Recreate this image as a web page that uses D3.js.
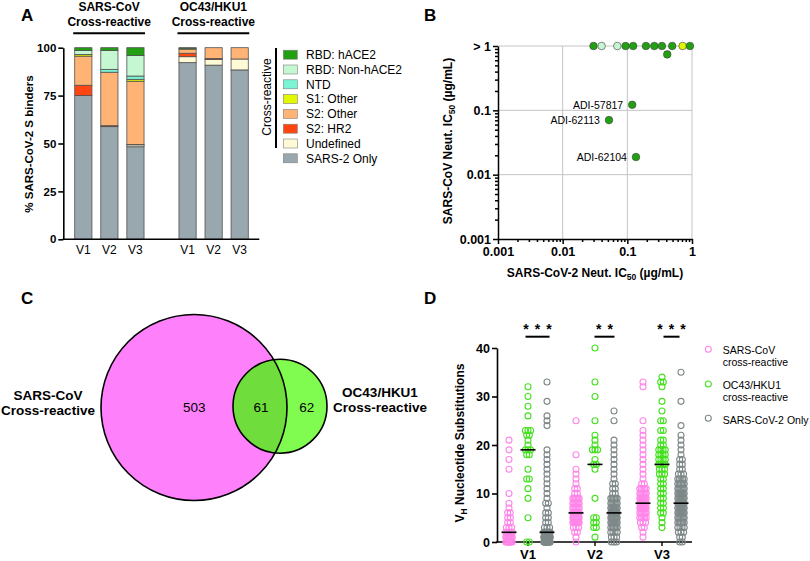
<!DOCTYPE html>
<html>
<head>
<meta charset="utf-8">
<script src="https://cdn.jsdelivr.net/npm/d3@7"></script>
<style>
  body { margin: 0; background: #fff; }
  svg { display: block; font-family: "Liberation Sans", Arial, sans-serif; }
</style>
</head>
<body>
<script>
// ---- panel A: epitope composition (% of SARS-CoV-2 S binders)
const visits = ["V1", "V2", "V3"];
const segNames = ["SARS-2 Only", "Undefined", "S2: HR2", "S2: Other", "S1: Other", "NTD", "RBD: Non-hACE2", "RBD: hACE2"];
const segColors = ["#98a8ae", "#fffad6", "#ff4511", "#ffb476", "#e2f700", "#7af5d4", "#c5f8d2", "#22a012"];
const sarsBars = [
  [75.0, 0, 5.4, 15.2, 0.9, 0, 2.1, 1.4],
  [58.8, 0, 0.5, 27.9, 0, 1.5, 9.8, 1.5],
  [48.3, 1.0, 0.2, 33.0, 1.0, 1.7, 10.8, 4.0]
];
const oc43Bars = [
  [92.2, 3.1, 1.8, 2.1, 0.5, 0, 0, 0.3],
  [90.9, 3.0, 0.5, 5.6, 0, 0, 0, 0],
  [88.4, 5.7, 0, 5.9, 0, 0, 0, 0]
];

// ---- panel B: neutralization IC50 (µg/mL)
const bSars2IC50 = [0.030, 0.040, 0.070, 0.094, 0.123, 0.194, 0.261, 0.343, 0.414, 0.494, 0.716, 0.929, 0.119, 0.052, 0.136];
const bSarsIC50  = [1, 1, 1, 1, 1, 1, 1, 1, 0.74, 1, 1, 1, 0.122, 0.0705, 0.0188];
const bEpitope   = ["RBD: hACE2", "RBD: Non-hACE2", "RBD: Non-hACE2", "RBD: hACE2", "RBD: hACE2", "RBD: hACE2",
                    "RBD: hACE2", "RBD: hACE2", "RBD: hACE2", "RBD: hACE2", "S1: Other", "RBD: hACE2",
                    "RBD: hACE2", "RBD: hACE2", "RBD: hACE2"];
const bLabels    = ["", "", "", "", "", "", "", "", "", "", "", "", "ADI-57817", "ADI-62113", "ADI-62104"];

// ---- panel C: overlap counts
const vennCounts = [503, 61, 62];

// ---- panel D: VH nucleotide substitutions, [value, count]
const dSeries = ["SARS-CoV cross-reactive", "OC43/HKU1 cross-reactive", "SARS-CoV-2 Only"];
const dSarsV1 = [[0,8],[1,8],[2,5],[3,3],[4,2],[5,2],[6,2],[7,1],[8,1],[10,1],[15,1],[17,1],[19,1],[21,1]];
const dOcV1   = [[0,2],[5,1],[9,1],[11,1],[13,2],[15,1],[18,2],[19,3],[20,1],[21,1],[22,2],[23,3],[26,1],[28,1],[30,1],[32,1]];
const dOnlyV1 = [[0,18],[1,22],[2,12],[3,3],[4,2],[5,2],[6,2],[7,1],[8,2],[9,1],[10,1],[11,1],[12,1],[13,1],[14,1],[15,1],[16,1],[17,1],[18,1],[19,1],[24,1],[25,1],[26,1],[29,1],[33,1]];
const dSarsV2 = [[0,1],[1,1],[2,2],[3,3],[4,8],[5,9],[6,9],[7,7],[8,7],[9,6],[10,2],[11,2],[12,1],[13,1],[14,1],[15,1],[18,1],[25,1]];
const dOcV2   = [[1,1],[3,2],[4,2],[5,2],[9,1],[15,1],[16,2],[17,1],[19,3],[20,1],[21,1],[22,1],[25,1],[30,1],[33,1],[40,1]];
const dOnlyV2 = [[0,3],[1,3],[2,4],[3,6],[4,8],[5,9],[6,9],[7,8],[8,7],[9,6],[10,2],[11,2],[12,2],[13,1],[14,1],[15,1],[16,1],[17,1],[18,1],[19,1],[20,1],[21,1],[25,1],[27,1]];
const dSarsV3 = [[1,1],[2,1],[3,2],[4,3],[5,5],[6,7],[7,8],[8,8],[9,8],[10,7],[11,5],[12,2],[13,1],[14,1],[15,1],[16,1],[17,1],[18,1],[19,1],[20,1],[21,1],[22,1],[23,1],[25,1],[32,1],[33,1]];
const dOcV3   = [[3,1],[4,1],[5,1],[6,2],[7,2],[8,2],[9,2],[10,2],[11,2],[12,2],[13,2],[14,3],[15,3],[16,4],[17,4],[18,4],[19,4],[20,2],[21,2],[23,2],[25,2],[27,1],[29,1],[32,1],[33,2],[34,1]];
const dOnlyV3 = [[0,2],[1,2],[2,3],[3,4],[4,6],[5,7],[6,8],[7,8],[8,8],[9,8],[10,8],[11,7],[12,6],[13,5],[14,3],[15,2],[16,2],[17,2],[18,1],[19,1],[20,1],[21,1],[22,1],[24,1],[29,1],[35,1]];
const dMedians = [[2, 19, 2], [6, 16, 6], [8, 16, 8]];
const dStars = ["***", "**", "***"];

const svg = d3.select("body").append("svg").attr("width", 810).attr("height", 561);
svg.append("rect").attr("width", 810).attr("height", 561).attr("fill", "#fff");

function panelLetter(t, x, y) {
  svg.append("text").attr("x", x).attr("y", y).attr("font-size", 17).attr("font-weight", "bold").text(t);
}
function boldTicks(g, size) {
  g.selectAll(".tick text").attr("font-size", size).attr("font-weight", "bold").attr("fill", "#000")
    .attr("font-family", "Liberation Sans, Arial, sans-serif");
  g.selectAll("line, path").attr("stroke", "#000");
}

// ================= A =================
panelLetter("A", 21, 20.5);
const slots = ["s1", "s2", "s3", "gap", "o1", "o2", "o3"];
const xA = d3.scaleBand().domain(slots).range([63, 260]).paddingInner(0.34).paddingOuter(0.45);
const yA = d3.scaleLinear().domain([0, 100]).range([239.3, 47.7]);
const barRows = sarsBars.map((v, i) => ({ slot: "s" + (i + 1), label: visits[i], vals: v }))
  .concat(oc43Bars.map((v, i) => ({ slot: "o" + (i + 1), label: visits[i], vals: v })));
const stackA = d3.stack().keys(d3.range(segNames.length))(barRows.map(r => r.vals));
const gA = svg.append("g");
stackA.forEach((layer, k) => {
  layer.forEach((seg, i) => {
    if (seg[1] - seg[0] <= 0) return;
    gA.append("rect")
      .attr("x", xA(barRows[i].slot)).attr("width", xA.bandwidth())
      .attr("y", yA(seg[1])).attr("height", yA(seg[0]) - yA(seg[1]))
      .attr("fill", segColors[k]).attr("stroke", "#505050").attr("stroke-width", 0.8);
  });
});
const axA = gA.append("g").attr("transform", "translate(63.3,0)")
  .call(d3.axisLeft(yA).tickValues([0, 25, 50, 75, 100]).tickSize(5).tickSizeOuter(0).tickPadding(2));
boldTicks(axA, 11.5);
axA.selectAll("line, path").attr("stroke-width", 1.6);
gA.append("line").attr("x1", 62.5).attr("x2", 259.3).attr("y1", 239.3).attr("y2", 239.3)
  .attr("stroke", "#000").attr("stroke-width", 1.6);
barRows.forEach(r => {
  gA.append("text").attr("x", xA(r.slot) + xA.bandwidth() / 2).attr("y", 253.5)
    .attr("text-anchor", "middle").attr("font-size", 12).text(r.label);
});
gA.append("text").attr("transform", "translate(33,144) rotate(-90)").attr("text-anchor", "middle")
  .attr("font-size", 11.5).attr("font-weight", "bold").text("% SARS-CoV-2 S binders");
[["s1", "s3", "SARS-CoV"], ["o1", "o3", "OC43/HKU1"]].forEach(([a, b, name]) => {
  const x0 = xA(a) - 1.5, x1 = xA(b) + xA.bandwidth() + 1;
  const cx = (x0 + x1) / 2;
  gA.append("text").attr("x", cx).attr("y", 11).attr("text-anchor", "middle")
    .attr("font-size", 12).attr("font-weight", "bold").text(name);
  gA.append("text").attr("x", cx).attr("y", 26).attr("text-anchor", "middle")
    .attr("font-size", 12).attr("font-weight", "bold").text("Cross-reactive");
  gA.append("line").attr("x1", x0).attr("x2", x1).attr("y1", 33.3).attr("y2", 33.3)
    .attr("stroke", "#000").attr("stroke-width", 2);
});
// legend
const legA = gA.append("g");
segNames.slice().reverse().forEach((name, i) => {
  const k = segNames.length - 1 - i;
  const cy = 54.7 + i * 14.8;
  legA.append("rect").attr("x", 283.3).attr("y", cy - 4.5).attr("width", 14).attr("height", 9)
    .attr("fill", segColors[k]).attr("stroke", "#808080").attr("stroke-width", 0.6);
  legA.append("text").attr("x", 306).attr("y", cy + 4.3).attr("font-size", 12).text(name);
});
legA.append("line").attr("x1", 276).attr("x2", 276).attr("y1", 48).attr("y2", 148)
  .attr("stroke", "#000").attr("stroke-width", 2);
legA.append("text").attr("transform", "translate(270.5,97) rotate(-90)").attr("text-anchor", "middle")
  .attr("font-size", 12).text("Cross-reactive");

// ================= B =================
panelLetter("B", 424, 21);
const xB = d3.scaleLog().domain([0.001, 1]).range([498, 692]);
const yB = d3.scaleLog().domain([0.001, 1]).range([239, 46]);
const gB = svg.append("g");
const majors = [0.001, 0.01, 0.1, 1];
const minors = [];
[0.001, 0.01, 0.1].forEach(d => { for (let k = 2; k <= 9; k++) minors.push(d * k); });
majors.slice(1).forEach(v => {
  gB.append("line").attr("x1", xB(v)).attr("x2", xB(v)).attr("y1", 46).attr("y2", 239)
    .attr("stroke", "#c4c4c4").attr("stroke-width", 1);
  gB.append("line").attr("x1", 498).attr("x2", 692).attr("y1", yB(v)).attr("y2", yB(v))
    .attr("stroke", "#c4c4c4").attr("stroke-width", 1);
});
const axBy = gB.append("g").attr("transform", "translate(498,0)")
  .call(d3.axisLeft(yB).tickValues(majors).tickSize(5).tickSizeOuter(0).tickPadding(2)
    .tickFormat(d => d === 1 ? "> 1" : String(d)));
boldTicks(axBy, 12.5);
const axByMin = gB.append("g").attr("transform", "translate(498,0)")
  .call(d3.axisLeft(yB).tickValues(minors).tickSize(3).tickSizeOuter(0).tickFormat(""));
axByMin.select(".domain").remove();
const axBx = gB.append("g").attr("transform", "translate(0,239)")
  .call(d3.axisBottom(xB).tickValues(majors).tickSize(5).tickSizeOuter(0).tickPadding(3)
    .tickFormat(d => String(d)));
boldTicks(axBx, 12.5);
const axBxMin = gB.append("g").attr("transform", "translate(0,239)")
  .call(d3.axisBottom(xB).tickValues(minors).tickSize(3).tickSizeOuter(0).tickFormat(""));
axBxMin.select(".domain").remove();
[axBy, axBx, axByMin, axBxMin].forEach(a => a.selectAll("line, path").attr("stroke", "#000").attr("stroke-width", 1.5));
const epiColor = name => segColors[segNames.indexOf(name)];
bSars2IC50.forEach((xv, i) => {
  gB.append("circle").attr("cx", xB(xv)).attr("cy", yB(bSarsIC50[i])).attr("r", 3.8)
    .attr("fill", epiColor(bEpitope[i])).attr("stroke", "#404040").attr("stroke-width", 0.6);
  if (bLabels[i]) {
    gB.append("text").attr("x", xB(xv) - 9).attr("y", yB(bSarsIC50[i]) + 3.8)
      .attr("text-anchor", "end").attr("font-size", 10.5).text(bLabels[i]);
  }
});
const yLabB = gB.append("text").attr("transform", "translate(451.5,141) rotate(-90)")
  .attr("text-anchor", "middle").attr("font-size", 12).attr("font-weight", "bold");
yLabB.append("tspan").text("SARS-CoV Neut. IC");
yLabB.append("tspan").attr("font-size", 8.5).attr("dy", 3).text("50");
yLabB.append("tspan").attr("dy", -3).text(" (µg/mL)");
const xLabB = gB.append("text").attr("x", 595).attr("y", 277)
  .attr("text-anchor", "middle").attr("font-size", 12).attr("font-weight", "bold");
xLabB.append("tspan").text("SARS-CoV-2 Neut. IC");
xLabB.append("tspan").attr("font-size", 8.5).attr("dy", 3).text("50");
xLabB.append("tspan").attr("dy", -3).text(" (µg/mL)");

// ================= C =================
panelLetter("C", 21, 304);
const gC = svg.append("g");
const pinkC = { x: 194, y: 407.5, r: 93 };
const greenC = { x: 280, y: 406.2, r: 47 };
const defs = svg.append("defs");
defs.append("clipPath").attr("id", "clipPink").append("circle")
  .attr("cx", pinkC.x).attr("cy", pinkC.y).attr("r", pinkC.r);
gC.append("circle").attr("cx", pinkC.x).attr("cy", pinkC.y).attr("r", pinkC.r).attr("fill", "#ff80fb");
gC.append("circle").attr("cx", greenC.x).attr("cy", greenC.y).attr("r", greenC.r).attr("fill", "#80fc50");
gC.append("circle").attr("cx", greenC.x).attr("cy", greenC.y).attr("r", greenC.r)
  .attr("fill", "#6fdd3b").attr("clip-path", "url(#clipPink)");
[pinkC, greenC].forEach(c => gC.append("circle").attr("cx", c.x).attr("cy", c.y).attr("r", c.r)
  .attr("fill", "none").attr("stroke", "#000").attr("stroke-width", 1.6));
[[194.3, vennCounts[0]], [261, vennCounts[1]], [306.7, vennCounts[2]]].forEach(([x, n]) => {
  gC.append("text").attr("x", x).attr("y", 411.5).attr("text-anchor", "middle").attr("font-size", 13.5).text(n);
});
[[48, 400, "SARS-CoV"], [48, 415, "Cross-reactive"], [380, 396.5, "OC43/HKU1"], [380, 411.5, "Cross-reactive"]]
  .forEach(([x, y, t]) => gC.append("text").attr("x", x).attr("y", y).attr("text-anchor", "middle")
    .attr("font-size", 13.5).attr("font-weight", "bold").text(t));

// ================= D =================
panelLetter("D", 424, 304);
const gD = svg.append("g");
const xD = d3.scaleBand().domain(visits).range([494.5, 695.5]);
const offD = d3.scalePoint().domain([0, 1, 2]).range([-19, 19]);
const yD = d3.scaleLinear().domain([0, 40]).range([542, 348]);
const dColors = ["#ff86e8", "#45e020", "#7f8889"];
const dGroups = [[dSarsV1, dOcV1, dOnlyV1], [dSarsV2, dOcV2, dOnlyV2], [dSarsV3, dOcV3, dOnlyV3]];
const axDy = gD.append("g").attr("transform", "translate(497,0)")
  .call(d3.axisLeft(yD).tickValues([0, 10, 20, 30, 40]).tickSize(5).tickSizeOuter(0).tickPadding(2));
boldTicks(axDy, 12.5);
axDy.selectAll("line, path").attr("stroke-width", 1.6);
const axDx = gD.append("g").attr("transform", "translate(0,542)")
  .call(d3.axisBottom(xD).tickSize(4).tickSizeOuter(0).tickPadding(4));
boldTicks(axDx, 13);
axDx.select(".domain").remove();
axDx.selectAll("line").attr("stroke-width", 1.4);
gD.append("line").attr("x1", 496.2).attr("x2", 692).attr("y1", 542).attr("y2", 542)
  .attr("stroke", "#000").attr("stroke-width", 1.6);

const step = 2.6, halfMax = 3.2;
dGroups.forEach((grp, vi) => {
  grp.forEach((pairs, si) => {
    const cx = xD(visits[vi]) + xD.bandwidth() / 2 + offD(si);
    pairs.forEach(([val, n]) => {
      let sp = step;
      if (n > 1 && (n - 1) * step / 2 > halfMax) sp = 2 * halfMax / (n - 1);
      for (let j = 0; j < n; j++) {
        gD.append("circle").attr("cx", cx + (j - (n - 1) / 2) * sp).attr("cy", yD(val)).attr("r", 3)
          .attr("fill", "none").attr("stroke", dColors[si]).attr("stroke-width", 1.1);
      }
    });
  });
});
dMedians.forEach((meds, vi) => {
  meds.forEach((m, si) => {
    const cx = xD(visits[vi]) + xD.bandwidth() / 2 + offD(si);
    gD.append("line").attr("x1", cx - 7.5).attr("x2", cx + 7.5).attr("y1", yD(m)).attr("y2", yD(m))
      .attr("stroke", "#000").attr("stroke-width", 1.6);
  });
});
dStars.forEach((s, vi) => {
  const cx = xD(visits[vi]) + xD.bandwidth() / 2 + (offD(1) + offD(2)) / 2;
  const n = s.length;
  for (let j = 0; j < n; j++) {
    gD.append("text").attr("x", cx + (j - (n - 1) / 2) * 11.5).attr("y", 333.5)
      .attr("text-anchor", "middle").attr("font-size", 14).attr("font-weight", "bold").text("*");
  }
  const hw = [12, 10, 8][vi];
  gD.append("line").attr("x1", cx - hw).attr("x2", cx + hw).attr("y1", 336.7).attr("y2", 336.7)
    .attr("stroke", "#000").attr("stroke-width", 2);
});
const yLabD = gD.append("text").attr("transform", "translate(464,443) rotate(-90)")
  .attr("text-anchor", "middle").attr("font-size", 12).attr("font-weight", "bold");
yLabD.append("tspan").text("V");
yLabD.append("tspan").attr("font-size", 8.5).attr("dy", 3).text("H");
yLabD.append("tspan").attr("dy", -3).text(" Nucleotide Substitutions");
// legend
const legD = [
  { cy: 349.3, lines: [[354, "SARS-CoV"], [366, "cross-reactive"]] },
  { cy: 384, lines: [[389, "OC43/HKU1"], [401, "cross-reactive"]] },
  { cy: 418.3, lines: [[423.5, "SARS-CoV-2 Only"]] }
];
legD.forEach((it, i) => {
  gD.append("circle").attr("cx", 708.3).attr("cy", it.cy).attr("r", 3)
    .attr("fill", "none").attr("stroke", dColors[i]).attr("stroke-width", 1.1);
  it.lines.forEach(([y, t]) => gD.append("text").attr("x", 722.7).attr("y", y).attr("font-size", 10.5).text(t));
});
</script>
</body>
</html>
